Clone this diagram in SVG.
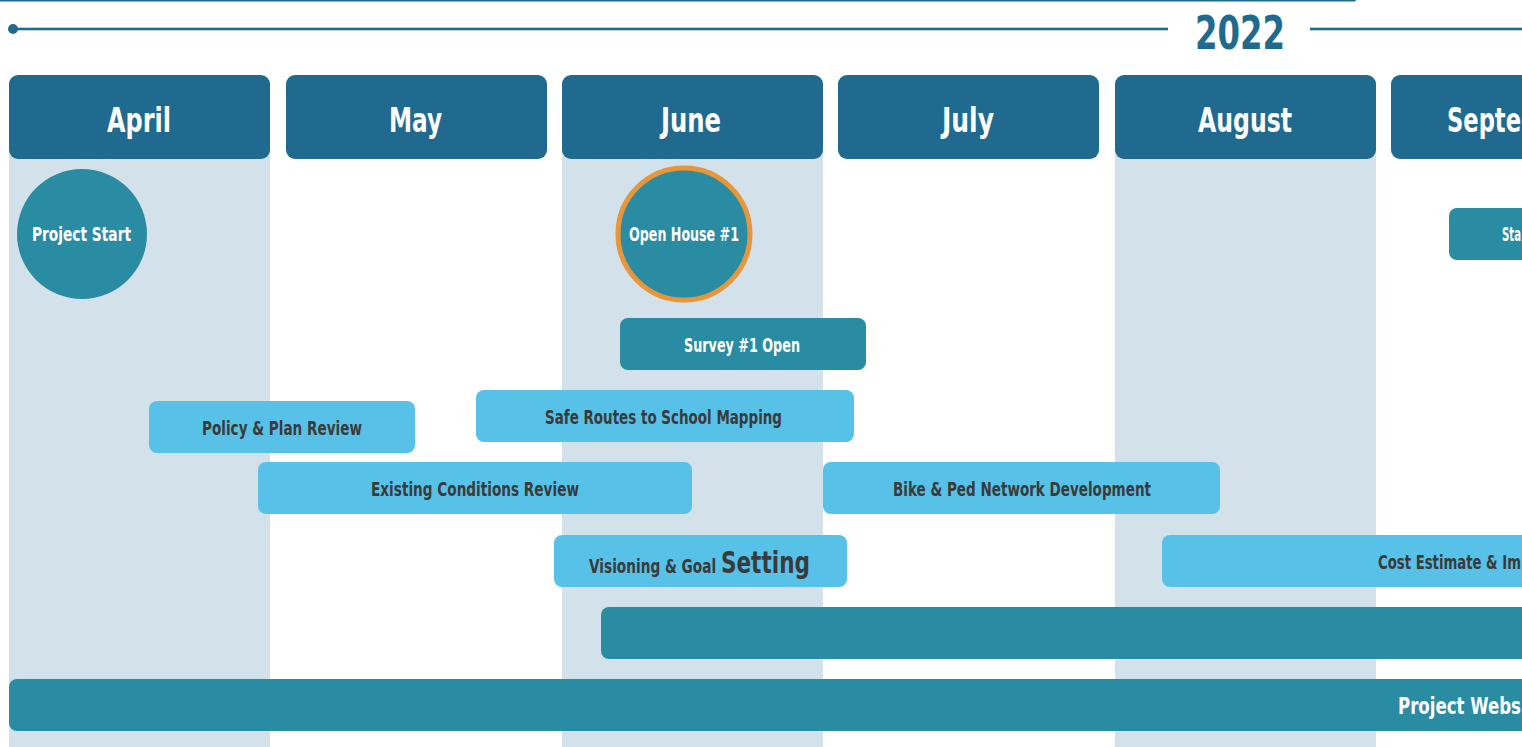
<svg xmlns="http://www.w3.org/2000/svg" width="1522" height="747" viewBox="0 0 1522 747">
<style>
.hdr{fill:#216a8f}
.shade{fill:#d3e2ea}
.teal{fill:#2a8ca3}
.sky{fill:#58c1e8}
text{font-family:"DejaVu Sans Condensed","Liberation Sans",sans-serif;font-weight:bold}
.mt{fill:#ffffff;font-size:34px;text-anchor:middle}
.wt{fill:#ffffff;font-size:19px;text-anchor:middle}
.dt{fill:#3a3a3a;font-size:19px;text-anchor:middle}
</style>
<rect width="1522" height="747" fill="#ffffff"/>
<g id="background">
<rect x="-10" y="-3" width="1366" height="4.5" rx="2" class="hdr"/>
<rect class="shade" x="9" y="150" width="261" height="610"/>
<rect class="shade" x="562" y="150" width="261" height="610"/>
<rect class="shade" x="1115" y="150" width="261" height="610"/>
</g>
<g id="timeline">
<circle cx="13" cy="29" r="5" class="hdr"/>
<rect x="13" y="27.7" width="1155" height="2.6" class="hdr"/>
<rect x="1310" y="27.7" width="220" height="2.6" class="hdr"/>
<text x="1240" y="49" textLength="90" lengthAdjust="spacingAndGlyphs" style="fill:#216a8f;font-size:46px;text-anchor:middle">2022</text>
</g>
<g id="month-april"><rect class="hdr" x="9" y="75" width="261" height="84" rx="9"/><text class="mt" x="139" y="132" textLength="64" lengthAdjust="spacingAndGlyphs">April</text></g>
<g id="month-may"><rect class="hdr" x="286" y="75" width="261" height="84" rx="9"/><text class="mt" x="415.5" y="132" textLength="53" lengthAdjust="spacingAndGlyphs">May</text></g>
<g id="month-june"><rect class="hdr" x="562" y="75" width="261" height="84" rx="9"/><text class="mt" x="691" y="132" textLength="60" lengthAdjust="spacingAndGlyphs">June</text></g>
<g id="month-july"><rect class="hdr" x="838" y="75" width="261" height="84" rx="9"/><text class="mt" x="968" y="132" textLength="52" lengthAdjust="spacingAndGlyphs">July</text></g>
<g id="month-august"><rect class="hdr" x="1115" y="75" width="261" height="84" rx="9"/><text class="mt" x="1245" y="132" textLength="94" lengthAdjust="spacingAndGlyphs">August</text></g>
<g id="month-september"><rect class="hdr" x="1391" y="75" width="261" height="84" rx="9"/><text class="mt" x="1447" y="132" textLength="74" lengthAdjust="spacingAndGlyphs" style="text-anchor:start">Septe</text></g>
<g id="project-start"><circle class="teal" cx="82" cy="234" r="65"/><text class="wt" x="81.5" y="241" textLength="99" lengthAdjust="spacingAndGlyphs">Project Start</text></g>
<g id="open-house-1"><circle class="teal" cx="684" cy="234" r="66" stroke="#e8963a" stroke-width="5"/><text class="wt" x="684" y="241" textLength="110" lengthAdjust="spacingAndGlyphs">Open House #1</text></g>
<g id="sta"><rect class="teal" x="1449" y="208" width="120" height="52" rx="8"/><text class="wt" x="1502" y="241" textLength="19" lengthAdjust="spacingAndGlyphs" style="text-anchor:start">Sta</text></g>
<g id="survey-1-open"><rect class="teal" x="620" y="318" width="246" height="52" rx="8"/><text class="wt" x="742" y="352" textLength="116" lengthAdjust="spacingAndGlyphs">Survey #1 Open</text></g>
<g id="safe-routes"><rect class="sky" x="476" y="390" width="378" height="52" rx="8"/><text class="dt" x="663.5" y="424" textLength="237" lengthAdjust="spacingAndGlyphs">Safe Routes to School Mapping</text></g>
<g id="policy-plan-review"><rect class="sky" x="149" y="401" width="266" height="52" rx="8"/><text class="dt" x="282" y="435" textLength="160" lengthAdjust="spacingAndGlyphs">Policy &amp; Plan Review</text></g>
<g id="existing-conditions"><rect class="sky" x="258" y="462" width="434" height="52" rx="8"/><text class="dt" x="475" y="496" textLength="208" lengthAdjust="spacingAndGlyphs">Existing Conditions Review</text></g>
<g id="bike-ped"><rect class="sky" x="823" y="462" width="397" height="52" rx="8"/><text class="dt" x="1022" y="496" textLength="258" lengthAdjust="spacingAndGlyphs">Bike &amp; Ped Network Development</text></g>
<g id="visioning"><rect class="sky" x="554" y="535" width="293" height="52" rx="8"/><text class="dt" x="589" y="573" textLength="221" lengthAdjust="spacingAndGlyphs" style="text-anchor:start">Visioning &amp; Goal <tspan style="font-size:30px">Setting</tspan></text></g>
<g id="cost-estimate"><rect class="sky" x="1162" y="535" width="400" height="52" rx="8"/><text class="dt" x="1378" y="569" textLength="143" lengthAdjust="spacingAndGlyphs" style="text-anchor:start;font-size:20px">Cost Estimate &amp; Im</text></g>
<g id="teal-bar"><rect class="teal" x="601" y="607" width="960" height="52" rx="8"/></g>
<g id="project-website"><rect class="teal" x="9" y="679" width="1560" height="52" rx="8"/><text class="wt" x="1398" y="714" textLength="123" lengthAdjust="spacingAndGlyphs" style="text-anchor:start;font-size:23px">Project Webs</text></g>
<g id="connectors"></g>
</svg>
